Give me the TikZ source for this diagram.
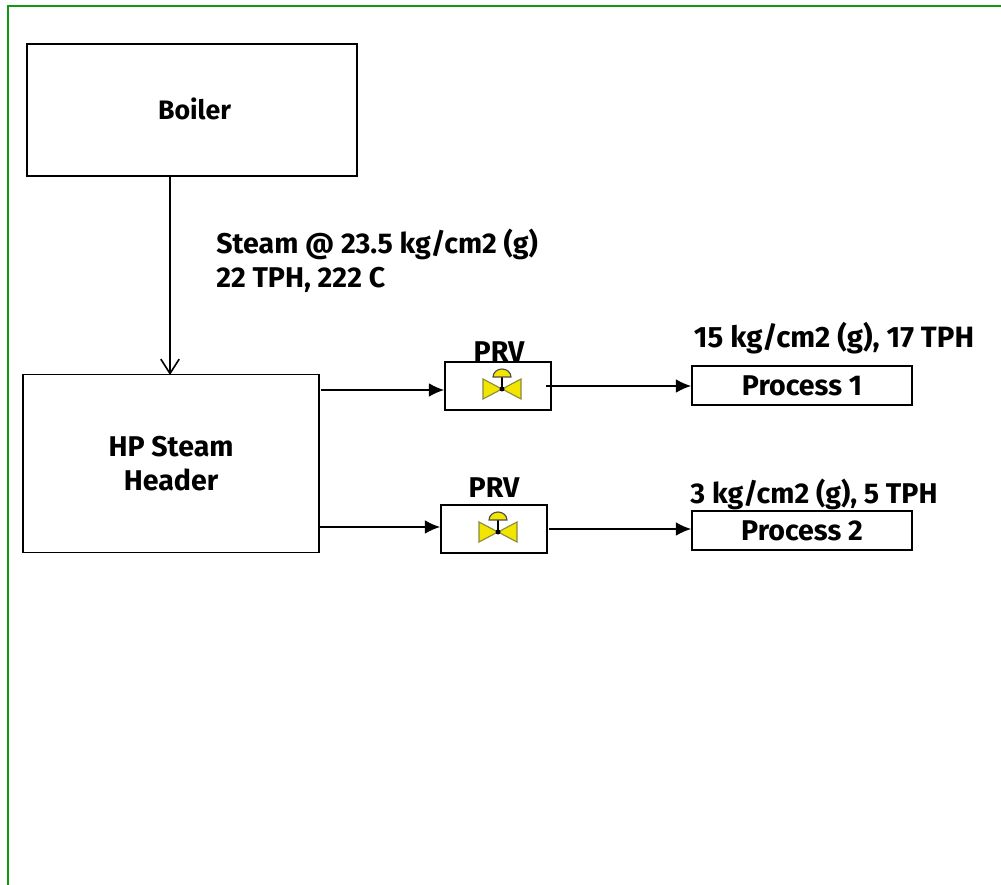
\documentclass[tikz,border=0pt]{standalone}
\usepackage{fontspec}
\setmainfont{Fira Sans}
\usepackage{xcolor}
\usetikzlibrary{arrows.meta,positioning,calc}
\definecolor{framegreen}{HTML}{109A10}
\definecolor{valveyellow}{HTML}{F2E600}
\definecolor{valveedge}{HTML}{8A8A40}
\tikzset{
  >={Latex[length=3.8mm,width=3.4mm]},
  flow/.style={->,draw=black,line width=1.15pt},
  unit/.style={draw=black,line width=1.15pt,fill=white,align=center,font=\bfseries\fontsize{20.3}{24}\selectfont},
  labeltext/.style={font=\bfseries\fontsize{20.3}{24}\selectfont,align=left,inner sep=0pt},
  valvebody/.style={fill=valveyellow,draw=valveedge,line width=.8pt},
}
\newcommand{\prvsymbol}[1]{%
  \coordinate (joint) at ($(#1)+(4,3)$);
  \draw[valvebody] ($(joint)+(-19,-10)$) -- (joint) -- ($(joint)+(-19,10)$) -- cycle;
  \draw[valvebody] ($(joint)+(19,-10)$) -- (joint) -- ($(joint)+(19,10)$) -- cycle;
  \draw[black,line width=.9pt] (joint) -- ($(joint)+(0,-12)$);
  \fill[black] (joint) circle[radius=2.5];
  \draw[valvebody,draw=black!70] ($(joint)+(-9,-12)$) arc[start angle=180,end angle=360,x radius=9,y radius=8] -- cycle;
}
\begin{document}
\begin{tikzpicture}[x=0.025cm,y=-0.025cm]
  \useasboundingbox (0,0) rectangle (1001,885);
  % frame
  \coordinate (frameb) at (8,885);
  \coordinate (framec) at (8,6);
  \coordinate (framed) at (1001,6);
  \draw[framegreen,line width=1.5pt] (frameb) -- (framec) -- (framed);

  \node[unit,minimum width=82.5mm,minimum height=33mm,text height=0pt,text depth=0pt] (boiler) at (192,110) {};
  \node[labeltext,font=\bfseries\fontsize{19}{24}\selectfont] (boilertxt) at (194.5,109) {Boiler};
  \node[unit,minimum width=74mm,minimum height=44.5mm] (header) at (171,463.5) {HP Steam\\Header};
  \draw[draw=black,line width=1.15pt,-{Straight Barb[length=3.6mm,width=4.6mm]}] (boiler.south -| 170,0) -- (170,375);
  \node[labeltext,anchor=west] (steam) at (216,261) {Steam @ 23.5 kg/cm2 (g)\\22 TPH, 222 C};

  \node[labeltext] (prva) at (499,352) {PRV};
  \node[labeltext] (prvb) at (494,488) {PRV};
  \node[unit,minimum width=26.5mm,minimum height=12mm] (valvea) at (498,386) {};
  \node[unit,minimum width=26.5mm,minimum height=12mm] (valveb) at (494,529) {};
  \prvsymbol{valvea}
  \prvsymbol{valveb}

  \node[unit,minimum width=55mm,minimum height=9.8mm] (proca) at (802,385.5) {Process 1};
  \node[unit,minimum width=55mm,minimum height=9.8mm] (procb) at (802,530.5) {Process 2};
  \node[labeltext,font=\bfseries\fontsize{20.9}{24}\selectfont] (procatxt) at (834,338) {15 kg/cm2 (g), 17 TPH};
  \node[labeltext] (procbtxt) at (814,494) {3 kg/cm2 (g), 5 TPH};

  \coordinate (outa) at (321,390);
  \coordinate (outb) at (319,527);
  \coordinate (stuba) at (546,386);
  \coordinate (stubb) at (549,529);
  \draw[flow] (outa) -- (valvea.west |- outa);
  \draw[flow] (outb) -- (valveb.west |- outb);
  \draw[flow] (stuba) -- (proca.west |- stuba);
  \draw[flow] (stubb) -- (procb.west |- stubb);
\end{tikzpicture}
\end{document}
